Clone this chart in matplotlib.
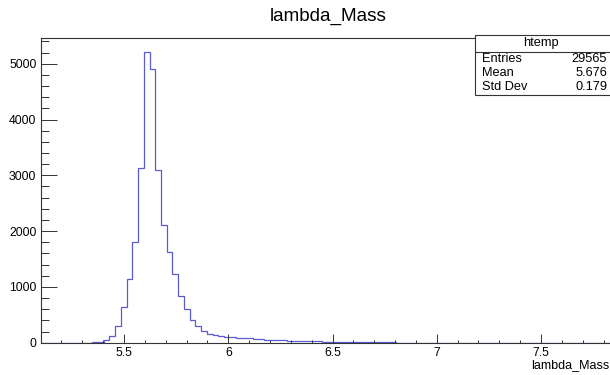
import matplotlib
matplotlib.use("Agg")
import matplotlib.pyplot as plt
from matplotlib.patches import Rectangle
from matplotlib.ticker import MultipleLocator, FormatStrFormatter
import numpy as np

plt.rcParams['font.family'] = ['Liberation Sans', 'DejaVu Sans']

# histogram htemp: 100 bins from 5.1 to 7.85
x_min = 5.1
x_max = 7.85
counts = [
    0, 0, 0, 0, 0, 0, 0, 0, 0, 5,
    15, 42, 125, 305, 633, 1135, 1810, 3131, 5210, 4905,
    3090, 2109, 1631, 1225, 843, 600, 407, 300, 215, 160,
    143, 125, 110, 100, 92, 85, 78, 70, 62, 56,
    50, 45, 40, 36, 33, 30, 27, 24, 22, 20,
    18, 15, 13, 12, 10, 9, 8, 7, 6, 5,
    4, 4, 3, 3, 3, 2, 2, 2, 2, 1,
    1, 1, 0, 0, 0, 0, 2, 0, 0, 0,
    0, 0, 0, 0, 0, 0, 0, 0, 0, 0,
    0, 0, 0, 0, 0, 0, 0, 0, 0, 0,
]
edges = np.linspace(x_min, x_max, len(counts) + 1)

title = "lambda_Mass"
x_title = "lambda_Mass"
stats_name = "htemp"
stats_labels = ["Entries", "Mean", "Std Dev"]
stats_values = ["29565", "5.676", "0.179"]

W, H = 610, 375
fig = plt.figure(figsize=(W / 100, H / 100), dpi=100)
fig.patch.set_facecolor('white')

# axes frame in pixel terms: left 40.6, right 614, bottom 342.7, top 37.5
ax = fig.add_axes([40.6 / W, (H - 342.7) / H, 573.4 / W, (342.7 - 37.5) / H])
ax.stairs(counts, edges, color='#5a5ad2', linewidth=0.9)

ax.set_xlim(x_min, x_max)
ax.set_ylim(0, 1.05 * max(counts))

for s in ax.spines.values():
    s.set_color('#333333')
    s.set_linewidth(0.8)

ax.xaxis.set_major_locator(MultipleLocator(0.5))
ax.xaxis.set_minor_locator(MultipleLocator(0.1))
ax.yaxis.set_major_locator(MultipleLocator(1000))
ax.yaxis.set_minor_locator(MultipleLocator(200))
ax.xaxis.set_major_formatter(FormatStrFormatter('%g'))
ax.tick_params(axis='x', which='major', direction='in', length=6.3, width=0.7,
               color='#333333', labelsize=8.8, pad=3)
ax.tick_params(axis='x', which='minor', direction='in', length=2.4, width=0.7,
               color='#333333')
ax.tick_params(axis='y', which='major', direction='in', length=11.8, width=0.7,
               color='#333333', labelsize=8.8, pad=3)
ax.tick_params(axis='y', which='minor', direction='in', length=6, width=0.7,
               color='#333333')

# title and x title, ROOT style
fig.text(328 / W, 1 - 16 / H, title, fontsize=13.6, ha='center', va='center')
fig.text(609 / W, 1 - 365 / H, x_title, fontsize=9, ha='right', va='center')

# stats box
def fy(y):
    return 1 - y / H

box_l, box_r, box_t, box_b = 475, 612, 35, 95
fig.patches.append(Rectangle((box_l / W, fy(box_b)), (box_r - box_l) / W,
                             (box_b - box_t) / H, transform=fig.transFigure,
                             facecolor='white', edgecolor='#333333',
                             linewidth=0.8, zorder=5))
fig.add_artist(plt.Line2D([box_l / W, box_r / W], [fy(51.7), fy(51.7)],
                          transform=fig.transFigure, color='#333333',
                          linewidth=0.8, zorder=6))
fig.text(541 / W, fy(43.3), stats_name, fontsize=9.2, ha='center', va='center', zorder=7)
for k, (lab, val) in enumerate(zip(stats_labels, stats_values)):
    y = 58.5 + k * 14.2
    fig.text(482 / W, fy(y), lab, fontsize=9.2, ha='left', va='center', zorder=7)
    fig.text(607 / W, fy(y), val, fontsize=9.2, ha='right', va='center', zorder=7)

fig.savefig("out.png", dpi=100, facecolor='white')
